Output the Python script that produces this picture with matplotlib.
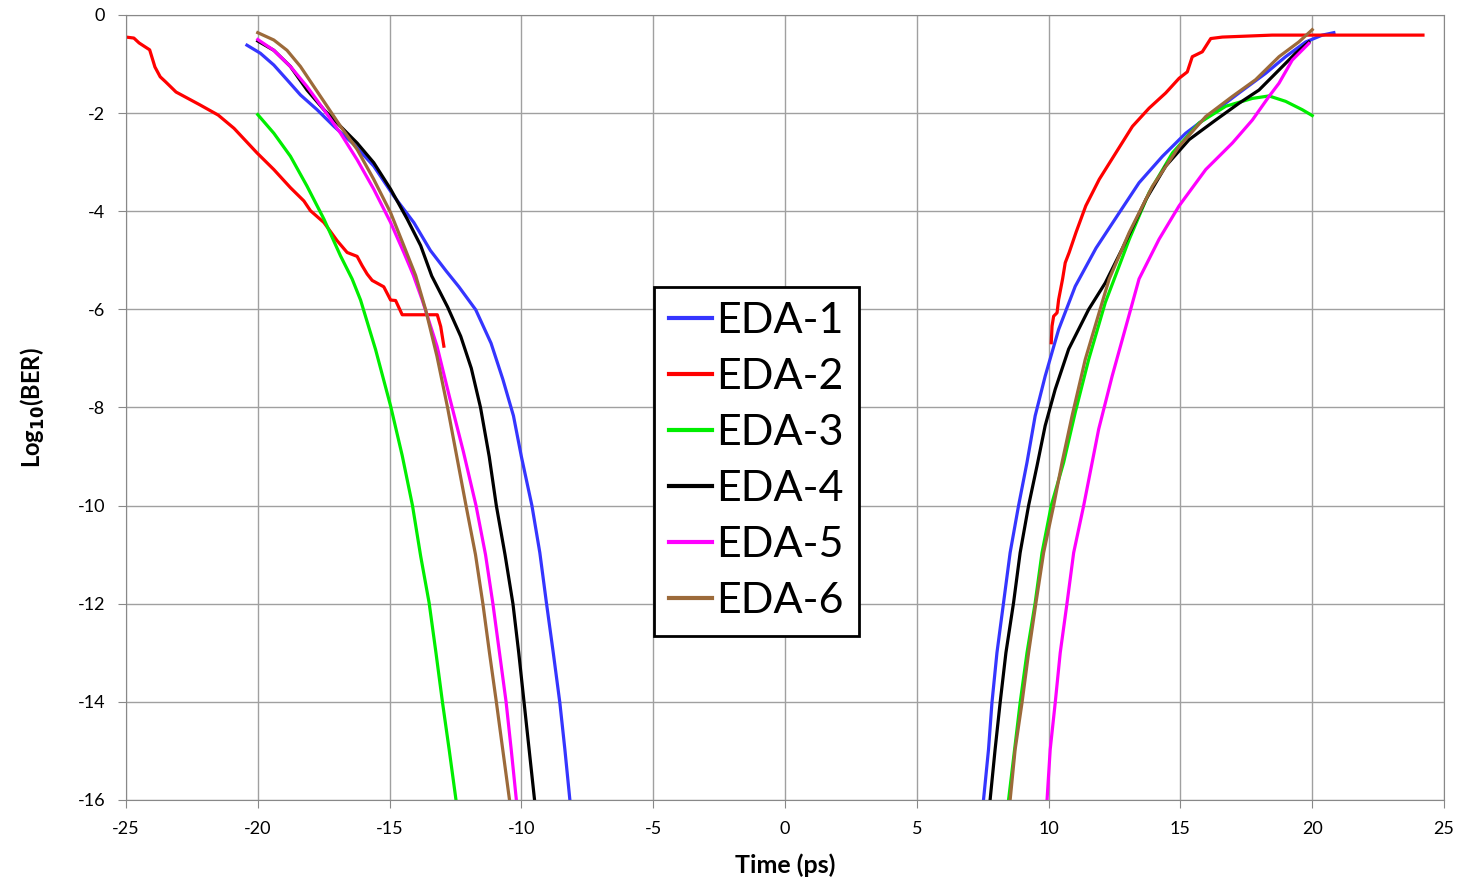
import numpy as np
import matplotlib
matplotlib.use("Agg")
import matplotlib.pyplot as plt

nan = np.nan

# EDA-1 (blue): left branch, gap, right branch
eda1_x = [-20.41, -19.9, -19.39, -18.89, -18.38, -17.75, -17.11, -16.35, -15.6, -14.84, -14.08, -13.45,
          -12.85, -12.37, -11.73, -11.15, -10.7, -10.3, -10.0, -9.6, -9.3, -9.05, -8.79, -8.54, -8.35, -8.16,
          nan, 7.53, 7.72, 7.85, 8.04, 8.29, 8.54, 8.86, 9.18, 9.49, 9.87, 10.38, 11.01, 11.8, 12.68, 13.43,
          14.32, 15.2, 16.21, 17.22, 18.23, 18.99, 19.75, 20.38, 20.82]
eda1_y = [-0.615, -0.78, -1.02, -1.32, -1.63, -1.93, -2.27, -2.64, -3.08, -3.69, -4.23, -4.8,
          -5.22, -5.54, -6.01, -6.69, -7.43, -8.17, -9.0, -10.0, -10.96, -11.98, -13.0, -14.02, -14.97, -16.0,
          nan, -16.0, -14.97, -14.02, -13.0, -11.98, -10.96, -10.0, -9.12, -8.17, -7.36, -6.41, -5.53, -4.75, -4.03, -3.42,
          -2.88, -2.41, -2.0, -1.59, -1.19, -0.85, -0.55, -0.41, -0.36]

# EDA-2 (red)
eda2_x = [-25.0, -24.7, -24.5, -24.1, -23.9, -23.7, -23.5, -23.1, -22.2, -21.5, -20.9, -20.03, -19.39,
          -18.76, -18.25, -18.0, -17.49, -16.99, -16.61, -16.23, -16.04, -15.85, -15.66, -15.22, -14.96,
          -14.77, -14.52, -13.19, -13.06, -12.94,
          nan, 10.1, 10.13, 10.19, 10.32, 10.38, 10.53, 10.63, 10.78, 11.04, 11.41, 11.92, 12.55, 13.18,
          13.81, 14.44, 14.95, 15.26, 15.45, 15.83, 16.15, 16.59, 18.48, 24.2]
eda2_y = [-0.45, -0.47, -0.57, -0.71, -1.06, -1.26, -1.36, -1.57, -1.83, -2.04, -2.31, -2.81, -3.15,
          -3.52, -3.79, -3.99, -4.23, -4.6, -4.84, -4.92, -5.11, -5.28, -5.41, -5.54, -5.81,
          -5.82, -6.11, -6.11, -6.35, -6.75,
          nan, -6.68, -6.34, -6.14, -6.07, -5.8, -5.38, -5.05, -4.84, -4.43, -3.89, -3.35, -2.81, -2.27,
          -1.9, -1.59, -1.29, -1.16, -0.85, -0.75, -0.48, -0.45, -0.41, -0.41]

# EDA-3 (green)
eda3_x = [-20.0, -19.39, -18.76, -18.13, -17.49, -16.86, -16.42, -16.1, -15.53, -14.96, -14.52, -14.13,
          -13.82, -13.5, -13.24, -12.99, -12.74, -12.48,
          nan, 8.48, 8.71, 8.92, 9.18, 9.49, 9.75, 10.1, 10.57, 11.01, 11.52, 12.15, 12.49, 13.06, 13.81,
          14.7, 15.71, 16.72, 17.73, 18.36, 18.99, 19.62, 20.0]
eda3_y = [-2.03, -2.41, -2.88, -3.49, -4.16, -4.91, -5.38, -5.81, -6.82, -7.97, -8.98, -10.0,
          -11.03, -11.98, -13.0, -14.02, -14.97, -16.0,
          nan, -16.0, -14.97, -14.02, -13.0, -11.98, -10.96, -10.0, -9.12, -8.1, -7.02, -5.86, -5.38, -4.57, -3.62,
          -2.81, -2.2, -1.86, -1.7, -1.65, -1.76, -1.93, -2.05]

# EDA-4 (black)
eda4_x = [-20.0, -19.39, -18.76, -18.13, -17.49, -16.86, -16.23, -15.6, -14.96, -14.33, -13.82, -13.4,
          -12.8, -12.3, -11.9, -11.55, -11.22, -10.95, -10.62, -10.32, -10.1, -9.9, -9.7, -9.5,
          nan, 7.78, 7.97, 8.16, 8.38, 8.67, 8.92, 9.24, 9.56, 9.87, 10.25, 10.76, 11.52, 12.15, 12.78,
          13.69, 14.44, 15.33, 16.34, 17.22, 17.98, 18.74, 19.37, 19.87]
eda4_y = [-0.53, -0.72, -1.05, -1.53, -1.93, -2.27, -2.61, -3.01, -3.55, -4.16, -4.7, -5.32,
          -5.95, -6.55, -7.2, -8.0, -9.0, -10.0, -11.0, -12.0, -13.0, -14.0, -15.0, -16.0,
          nan, -16.0, -14.97, -14.02, -13.0, -11.98, -10.96, -10.0, -9.19, -8.37, -7.63, -6.81, -6.0, -5.46, -4.78,
          -3.76, -3.08, -2.54, -2.14, -1.8, -1.53, -1.12, -0.78, -0.55]

# EDA-5 (magenta)
eda5_x = [-20.0, -19.39, -18.76, -18.13, -17.49, -16.86, -16.23, -15.6, -14.96, -14.46, -14.1, -13.76,
          -13.2, -12.72, -12.2, -11.72, -11.36, -11.08, -10.83, -10.58, -10.38, -10.19,
          nan, 9.94, 10.06, 10.25, 10.44, 10.7, 10.95, 11.33, 11.9, 12.41, 13.04, 13.43, 14.19, 14.95,
          15.96, 16.97, 17.73, 18.36, 18.74, 19.24, 19.87]
eda5_y = [-0.5, -0.72, -1.05, -1.46, -1.93, -2.41, -2.95, -3.55, -4.23, -4.84, -5.3, -5.81,
          -6.75, -7.8, -8.9, -10.0, -11.0, -12.0, -13.0, -14.0, -15.0, -16.0,
          nan, -16.0, -14.97, -14.02, -13.0, -11.98, -10.96, -10.0, -8.44, -7.36, -6.14, -5.38, -4.57, -3.89,
          -3.15, -2.61, -2.14, -1.66, -1.39, -0.92, -0.58]

# EDA-6 (brown)
eda6_x = [-20.0, -19.39, -18.89, -18.38, -17.87, -17.37, -16.86, -16.23, -15.6, -14.96, -14.46, -14.01,
          -13.63, -13.2, -12.8, -12.45, -12.1, -11.74, -11.46, -11.21, -10.95, -10.7, -10.45,
          nan, 8.54, 8.73, 8.99, 9.24, 9.52, 9.81, 10.19, 10.51, 10.89, 11.39, 12.03, 12.3, 13.06, 13.94,
          14.95, 15.96, 16.97, 17.85, 18.74, 19.49, 20.0]
eda6_y = [-0.36, -0.51, -0.72, -1.05, -1.46, -1.86, -2.27, -2.74, -3.35, -4.03, -4.7, -5.31,
          -6.01, -6.96, -8.0, -9.0, -10.0, -11.0, -12.0, -13.0, -14.0, -15.0, -16.0,
          nan, -16.0, -14.97, -14.02, -13.0, -11.98, -10.96, -10.0, -9.12, -8.17, -7.02, -5.86, -5.38, -4.43, -3.49,
          -2.68, -2.07, -1.66, -1.32, -0.85, -0.55, -0.3]

series = [
    ("EDA-1", eda1_x, eda1_y, "#3535ff"),
    ("EDA-2", eda2_x, eda2_y, "#ff0000"),
    ("EDA-3", eda3_x, eda3_y, "#00ee00"),
    ("EDA-4", eda4_x, eda4_y, "#000000"),
    ("EDA-5", eda5_x, eda5_y, "#ff00ff"),
    ("EDA-6", eda6_x, eda6_y, "#9c6a3a"),
]

x_ticks = [-25, -20, -15, -10, -5, 0, 5, 10, 15, 20, 25]
y_ticks = [0, -2, -4, -6, -8, -10, -12, -14, -16]

plt.rcParams['font.family'] = ['Lato', 'DejaVu Sans']
plt.rcParams['axes.unicode_minus'] = False

fig = plt.figure(figsize=(14.61, 8.82), dpi=100)
ax = fig.add_axes([0.0862, 0.093, 0.9022, 0.890])

for name, xs, ys, col in series:
    ax.plot(xs, ys, color=col, lw=2.3, label=name, solid_joinstyle='round')

ax.set_xlim(-25, 25)
ax.set_ylim(-16, 0)
ax.set_xticks(x_ticks)
ax.set_yticks(y_ticks)
ax.tick_params(labelsize=13, length=6, color="#888888", direction='out', pad=9)
ax.grid(True, color="#a0a0a0", lw=1)
ax.set_axisbelow(True)
for s in ax.spines.values():
    s.set_color("#888888")

ax.set_xlabel("Time (ps)", fontsize=18, fontweight='bold', labelpad=12)
ax.set_ylabel(r"Log$_{\mathbf{10}}$(BER)", fontsize=17, fontweight='bold', labelpad=22)

leg = ax.legend(loc='center', bbox_to_anchor=(0.5178, 0.477), bbox_transform=fig.transFigure,
                fontsize=31, handlelength=1.0, handletextpad=0.1, labelspacing=0.42,
                borderpad=0.35, fancybox=False, framealpha=1, edgecolor='black')
leg.get_frame().set_linewidth(2)
for line in leg.get_lines():
    line.set_linewidth(3)

fig.savefig("out.png", dpi=100)
